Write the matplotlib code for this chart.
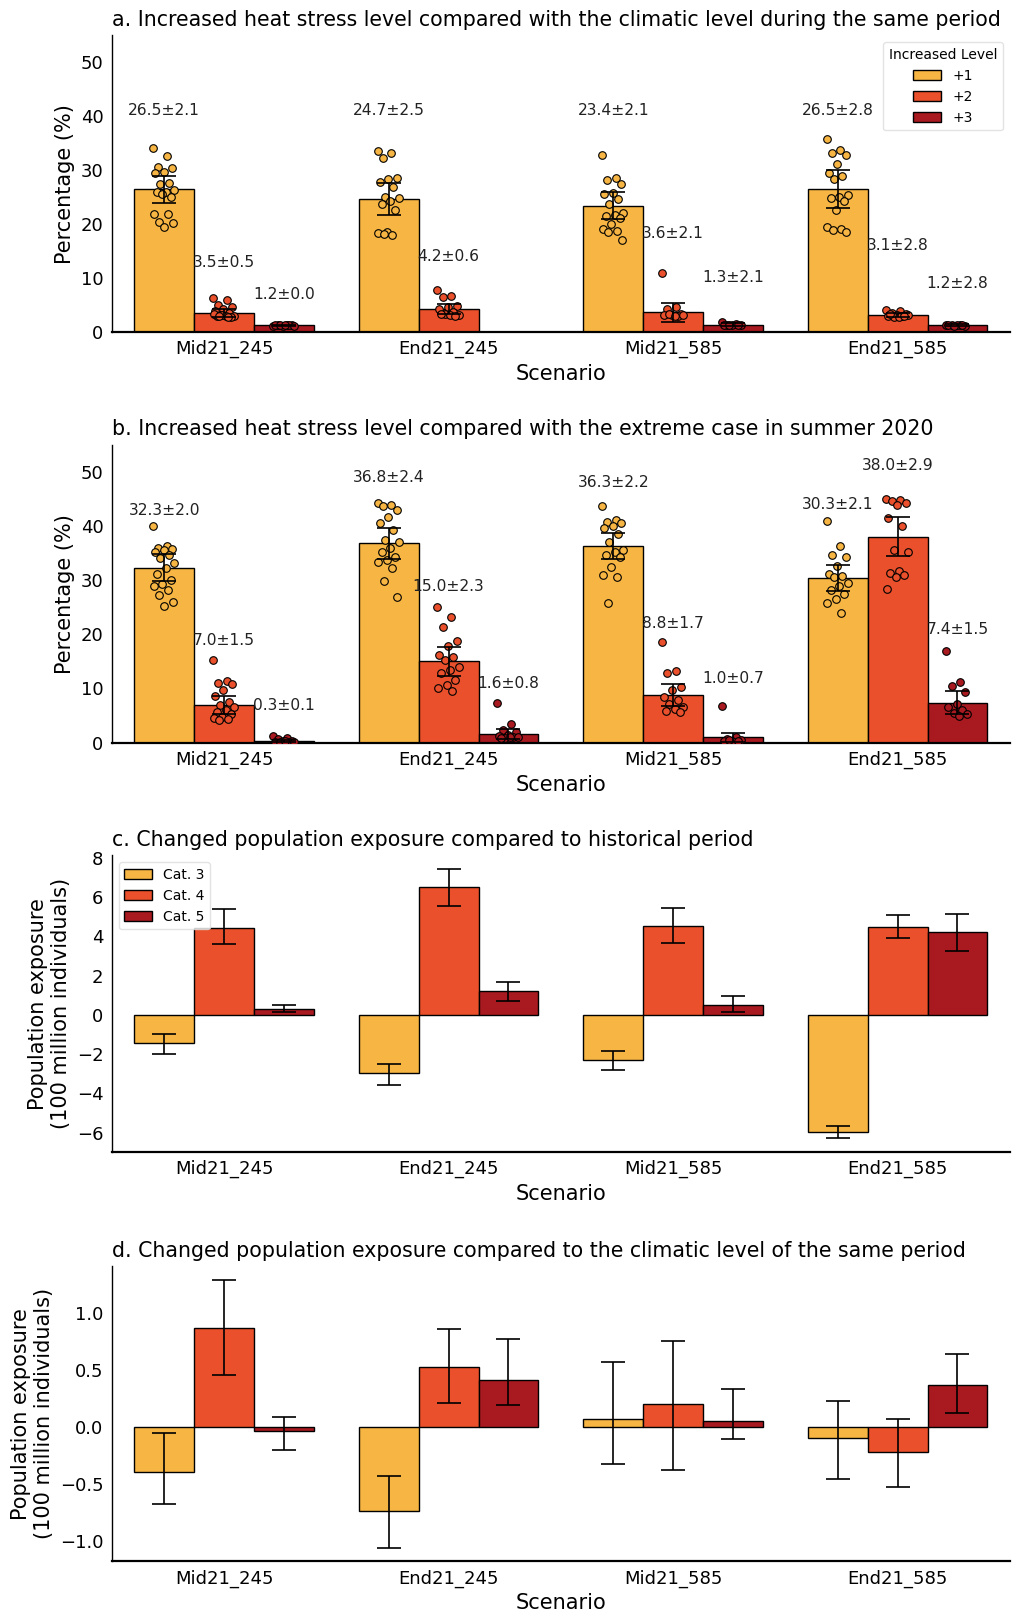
import numpy as np
import matplotlib.pyplot as plt

scenarios = ['Mid21_245', 'End21_245', 'Mid21_585', 'End21_585']
levels = ['+1', '+2', '+3']
cats = ['Cat. 3', 'Cat. 4', 'Cat. 5']
colors = ['#F7B643', '#E9502B', '#A91920']

# panel a: bar mean, sd shown in text, error bar half-length
a_mean = [[26.5, 3.5, 1.2], [24.7, 4.2, np.nan], [23.4, 3.6, 1.3], [26.5, 3.1, 1.2]]
a_sd = [[2.1, 0.5, 0.0], [2.5, 0.6, np.nan], [2.1, 2.1, 2.1], [2.8, 2.8, 2.8]]
a_err = [[2.5, 0.7, 0.1], [3.0, 0.9, np.nan], [2.5, 1.7, 0.3], [3.5, 0.4, 0.2]]
a_text_y = [[41.1, 12.8, 6.9], [41.1, 14.0, None], [41.1, 18.2, 10.1], [41.1, 16.0, 9.0]]
a_points = [
    [[34.1, 32.6, 30.6, 30.4, 29.7, 29.4, 27.7, 27.5, 26.3, 26.0, 25.9, 25.1, 25.5, 21.8, 21.8, 20.3, 20.2, 19.5],
     [6.2, 6.0, 5.0, 4.7, 4.2, 3.8, 3.5, 3.2, 3.0, 2.9, 2.9, 2.8, 3.1, 3.3, 2.7, 3.0],
     [1.1, 1.2, 1.3, 1.2, 1.1, 1.2, 1.3, 1.2, 1.1, 1.2]],
    [[33.6, 33.1, 32.3, 28.6, 28.3, 27.8, 26.9, 25.1, 24.8, 24.3, 23.7, 22.6, 18.6, 18.3, 18.0, 18.2],
     [7.8, 6.6, 6.4, 4.8, 4.6, 4.3, 3.6, 3.4, 3.2, 3.1, 3.3, 3.0],
     []],
    [[32.9, 28.6, 28.2, 27.5, 25.7, 25.6, 24.6, 23.7, 22.0, 21.7, 21.5, 21.1, 20.1, 19.0, 18.8, 18.6, 17.1],
     [11.0, 4.6, 4.2, 3.4, 3.2, 3.1, 3.0, 3.3, 3.2, 3.0],
     [1.9, 1.4, 1.3, 1.2, 1.3, 1.2, 1.3, 1.2]],
    [[35.7, 33.7, 33.2, 32.8, 31.1, 29.5, 28.9, 28.3, 25.4, 25.1, 24.8, 24.3, 22.7, 19.5, 19.0, 18.9, 18.6],
     [4.0, 3.8, 3.5, 3.3, 3.2, 3.0, 2.9, 2.8, 3.1, 2.7, 3.4, 2.9],
     [1.2, 1.3, 1.2, 1.1, 1.2, 1.3, 1.2, 1.1]],
]

# panel b
b_mean = [[32.3, 7.0, 0.3], [36.8, 15.0, 1.6], [36.3, 8.8, 1.0], [30.3, 38.0, 7.4]]
b_sd = [[2.0, 1.5, 0.1], [2.4, 2.3, 0.8], [2.2, 1.7, 0.7], [2.1, 2.9, 1.5]]
b_err = [[2.5, 1.7, 0.15], [2.9, 2.7, 1.0], [2.4, 2.0, 0.85], [2.4, 3.6, 2.1]]
b_text_y = [[42.9, 18.9, 6.9], [48.9, 28.9, 10.9], [48.0, 22.0, 11.9], [44.0, 51.1, 20.9]]
b_points = [
    [[40.0, 36.3, 36.0, 35.8, 35.5, 35.2, 34.6, 34.1, 33.1, 32.2, 31.1, 30.1, 29.3, 29.0, 28.2, 27.2, 26.0, 25.2],
     [15.2, 11.4, 11.0, 10.8, 9.7, 8.6, 7.5, 7.0, 6.6, 6.0, 5.6, 5.2, 4.8, 4.6, 4.4, 4.2],
     [1.3, 0.8, 0.6, 0.4, 0.3, 0.2, 0.2, 0.1, 0.2, 0.3]],
    [[44.2, 43.8, 43.6, 42.9, 41.6, 40.6, 39.2, 37.4, 37.0, 35.9, 35.2, 34.3, 33.8, 33.4, 32.2, 29.8, 26.8],
     [25.1, 23.2, 21.4, 18.7, 17.8, 16.1, 15.8, 15.2, 14.0, 13.4, 12.8, 11.5, 10.6, 10.0, 9.5],
     [7.4, 3.5, 2.3, 1.9, 1.5, 1.2, 1.0, 0.9, 1.0, 1.1, 0.8]],
    [[43.6, 41.1, 40.8, 40.5, 39.9, 39.6, 38.6, 37.1, 35.5, 35.2, 34.6, 34.2, 32.5, 30.9, 30.5, 25.8],
     [18.5, 13.2, 12.8, 10.2, 9.7, 8.4, 7.8, 7.2, 6.6, 6.2, 5.9, 5.7],
     [6.8, 1.0, 0.7, 0.5, 0.4, 0.3, 0.4, 0.5]],
    [[40.9, 36.3, 34.6, 34.3, 32.6, 31.2, 30.8, 30.6, 29.5, 28.9, 28.2, 27.5, 26.6, 25.7, 24.0],
     [44.9, 44.8, 44.6, 44.3, 43.9, 41.4, 39.9, 35.5, 35.2, 31.7, 31.4, 30.9, 30.5, 28.3],
     [16.9, 11.2, 10.4, 9.4, 7.2, 6.6, 6.0, 5.5, 5.2, 4.9]],
]

# panel c: change vs historical period (100 million individuals), bar + error range
c_mean = [[-1.45, 4.43, 0.29], [-2.96, 6.49, 1.19], [-2.29, 4.52, 0.52], [-5.97, 4.47, 4.21]]
c_lo = [[-2.00, 3.62, 0.15], [-3.58, 5.56, 0.68], [-2.80, 3.64, 0.16], [-6.29, 3.90, 3.27]]
c_hi = [[-0.95, 5.40, 0.50], [-2.49, 7.43, 1.66], [-1.82, 5.45, 0.94], [-5.66, 5.09, 5.14]]

# panel d: change vs climatic level of same period
d_mean = [[-0.40, 0.87, -0.04], [-0.74, 0.52, 0.41], [0.07, 0.20, 0.05], [-0.10, -0.22, 0.37]]
d_lo = [[-0.68, 0.45, -0.20], [-1.06, 0.21, 0.19], [-0.33, -0.38, -0.11], [-0.46, -0.525, 0.12]]
d_hi = [[-0.055, 1.29, 0.09], [-0.43, 0.86, 0.77], [0.566, 0.75, 0.33], [0.23, 0.065, 0.64]]

plt.rcParams['font.family'] = 'DejaVu Sans'
fig = plt.figure(figsize=(10.17, 16.11), dpi=100)

x = np.arange(len(scenarios))
w = 0.8 / 3

rects = [
    [0.110, 0.794, 0.883, 0.184],
    [0.110, 0.539, 0.883, 0.185],
    [0.110, 0.285, 0.883, 0.184],
    [0.110, 0.031, 0.883, 0.183],
]
titles = [
    'a. Increased heat stress level compared with the climatic level during the same period',
    'b. Increased heat stress level compared with the extreme case in summer 2020',
    'c. Changed population exposure compared to historical period',
    'd. Changed population exposure compared to the climatic level of the same period',
]


def style(ax, title):
    ax.spines['top'].set_visible(False)
    ax.spines['right'].set_visible(False)
    ax.spines['bottom'].set_linewidth(1.6)
    ax.spines['left'].set_linewidth(1.0)
    ax.tick_params(axis='both', length=0, pad=6, labelsize=13)
    ax.set_xticks(x)
    ax.set_xticklabels(scenarios)
    ax.set_xlim(-0.5, 3.5)
    ax.set_xlabel('Scenario', fontsize=15, labelpad=4)
    ax.set_title(title, loc='left', fontsize=14.8, pad=7)


def bar_panel(ax, mean, sd, err, text_y, points):
    for j in range(3):
        m = np.array([row[j] for row in mean], dtype=float)
        e = np.array([row[j] for row in err], dtype=float)
        xp = x + (j - 1) * w
        ax.bar(xp, m, w, color=colors[j], edgecolor='black', linewidth=1.0,
               label=levels[j], zorder=2)
        for i in range(len(scenarios)):
            pts = np.array(points[i][j])
            n = len(pts)
            if n:
                jit = ((np.arange(n) * 0.618) % 1 - 0.5) * 0.1
                ax.scatter(xp[i] + jit, pts, s=30, color=colors[j],
                           edgecolor='black', linewidth=0.8, zorder=3)
            if text_y[i][j] is not None:
                ax.text(xp[i], text_y[i][j], f'{mean[i][j]:.1f}\u00b1{sd[i][j]:.1f}',
                        ha='center', va='center', fontsize=11.2, color='#222222')
        ax.errorbar(xp, m, yerr=e, fmt='none', ecolor='black', elinewidth=1.2,
                    capsize=8.5, capthick=1.2, zorder=4)
    ax.set_ylim(0, 55)
    ax.set_yticks([0, 10, 20, 30, 40, 50])
    ax.set_ylabel('Percentage (%)', fontsize=15)


def exposure_panel(ax, mean, lo, hi):
    for j in range(3):
        m = np.array([row[j] for row in mean])
        l = np.array([row[j] for row in lo])
        h = np.array([row[j] for row in hi])
        xp = x + (j - 1) * w
        ax.bar(xp, m, w, color=colors[j], edgecolor='black', linewidth=1.0,
               label=cats[j], zorder=2)
        mid = (l + h) / 2
        ax.errorbar(xp, mid, yerr=(h - l) / 2, fmt='none', ecolor='black',
                    elinewidth=1.2, capsize=8.5, capthick=1.2, zorder=4)
    ax.set_ylabel('Population exposure\n(100 million individuals)', fontsize=15)


ax_a = fig.add_axes(rects[0])
bar_panel(ax_a, a_mean, a_sd, a_err, a_text_y, a_points)
style(ax_a, titles[0])
ax_a.legend(title='Increased Level', loc='upper right', fontsize=10,
            title_fontsize=10, frameon=True, edgecolor='#dddddd')

ax_b = fig.add_axes(rects[1])
bar_panel(ax_b, b_mean, b_sd, b_err, b_text_y, b_points)
style(ax_b, titles[1])

ax_c = fig.add_axes(rects[2])
exposure_panel(ax_c, c_mean, c_lo, c_hi)
style(ax_c, titles[2])
ax_c.set_yticks([-6, -4, -2, 0, 2, 4, 6, 8])
ax_c.legend(loc='upper left', fontsize=10, frameon=True, edgecolor='#dddddd')

ax_d = fig.add_axes(rects[3])
exposure_panel(ax_d, d_mean, d_lo, d_hi)
style(ax_d, titles[3])
ax_d.set_yticks([-1.0, -0.5, 0.0, 0.5, 1.0])

fig.savefig('out.png', dpi=100)
